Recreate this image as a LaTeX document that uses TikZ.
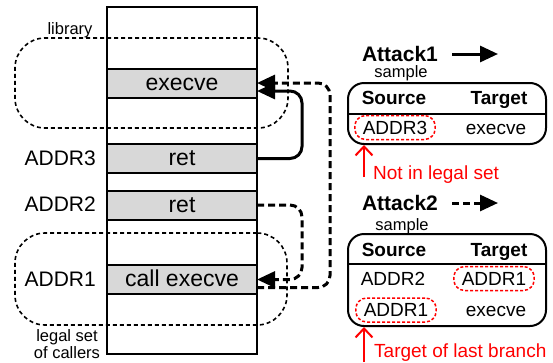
\documentclass[tikz,border=0pt]{standalone}
\usepackage{fontspec}
\setmainfont{Liberation Sans}
\usetikzlibrary{arrows.meta,calc}
\definecolor{cellgray}{RGB}{216,216,216}
\definecolor{alertred}{RGB}{255,0,0}
\begin{document}
\begin{tikzpicture}[x=1pt,y=-1pt,
  stack/.style={draw,line width=2pt,minimum width=150pt,minimum height=347pt,inner sep=0pt,outer sep=0pt},
  cell/.style={draw,line width=2pt,fill=cellgray,minimum width=150pt,minimum height=29pt,
    inner sep=0pt,outer sep=0pt,text height=14pt,text depth=0pt,font=\fontsize{23}{27}\selectfont},
  setbox/.style={draw,line width=1.6pt,dash pattern=on 4pt off 3pt,rounded corners=30pt,inner sep=0pt},
  addr/.style={inner sep=0pt,font=\fontsize{21}{25}\selectfont},
  small/.style={inner sep=0pt,font=\fontsize{16.5}{20}\selectfont},
  attackone/.style={line width=3pt,-{Triangle[length=18pt,width=16pt]},rounded corners=12pt},
  attacktwo/.style={attackone,dash pattern=on 7pt off 4pt},
  atk/.style={inner sep=0pt,font=\fontsize{21}{25}\selectfont\bfseries},
  tbl/.style={draw,line width=2pt,rounded corners=16pt,inner sep=0pt,minimum width=198pt},
  tcell/.style={inner sep=0pt,text height=13.6pt,text depth=0pt,font=\fontsize{19}{23}\selectfont},
  thead/.style={tcell,font=\fontsize{19}{23}\selectfont\bfseries},
  redbox/.style={draw=alertred,line width=1.5pt,dash pattern=on 3pt off 2pt,rounded corners=11pt,
    inner xsep=8pt,inner ysep=5.2pt},
  redarrow/.style={draw=alertred,line width=2pt,-{Straight Barb[length=9pt,width=17pt]}},
  redtxt/.style={inner sep=0pt,text=alertred,font=\fontsize{19}{23}\selectfont}
]
\useasboundingbox (0,0) rectangle (553,362);

% memory layout column
\node[stack] (col) at (182,180.5) {};
\node[cell] (exe)  at (182,83)    {execve};
\node[cell] (ret3) at (182,158.5) {ret};
\node[cell] (ret2) at (182,205)   {ret};
\node[cell] (call) at (182,279.5) {call execve};

% library and legal-caller regions
\node[setbox,minimum width=273pt,minimum height=90pt] (lib) at (151.5,83) {};
\node[setbox,minimum width=272pt,minimum height=92pt] (legal) at (151,279) {};

% left-hand labels
\node[small,anchor=base] (liblbl) at (70,34) {library};
\node[addr,anchor=base east] (a3) at (96,165) {ADDR3};
\node[addr,anchor=base east] (a2) at (96,211.5) {ADDR2};
\node[addr,anchor=base east] (a1) at (96,286) {ADDR1};
\node[small,anchor=base] (leg1) at (67,341.3) {legal set};
\node[small,anchor=base] (leg2) at (67,358.3) {of callers};

% attack control flows
\draw[attackone] (ret3.east) -- ++(45,0) |- ($(exe.east)+(0,8)$);
\draw[attacktwo] (ret2.east) -- ++(45,0) |- (call.east);
\draw[attacktwo] ($(call.east)+(0,8)$) -- ++(73,0) |- (exe.east);

% legend: Attack1
\node[atk,anchor=base] (at1) at (400,61) {Attack1};
\coordinate (l1s) at (452,54);
\coordinate (l1e) at (498,54);
\draw[attackone] (l1s) -- (l1e);
\node[small,anchor=base] (s1) at (401,77.5) {sample};

\node[tbl,minimum height=61pt] (t1) at (447,113.5) {};
\coordinate (d1) at (0,114);
\draw[line width=2pt] (t1.west |- d1) -- (t1.east |- d1);
\node[thead] (t1h1) at (394,97.2) {Source};
\node[thead] (t1h2) at (499,97.2) {Target};
\node[tcell,redbox] (t1r1) at (395,127.5) {ADDR3};
\node[tcell] (t1r2) at (496,127.5) {execve};

\coordinate (n1) at (364,177);
\draw[redarrow] (n1) -- (n1 |- t1.south);
\node[redtxt,anchor=base west] (nt1) at (373,179) {Not in legal set};

% legend: Attack2
\node[atk,anchor=base] (at2) at (400,210) {Attack2};
\coordinate (l2s) at (452,203);
\coordinate (l2e) at (498,203);
\draw[attacktwo] (l2s) -- (l2e);
\node[small,anchor=base] (s2) at (402,230) {sample};

\node[tbl,minimum height=92pt] (t2) at (447,280) {};
\coordinate (d2) at (0,264);
\draw[line width=2pt] (t2.west |- d2) -- (t2.east |- d2);
\node[thead] (t2h1) at (394,249.2) {Source};
\node[thead] (t2h2) at (499,249.2) {Target};
\node[tcell] (t2a) at (393,278.5) {ADDR2};
\node[tcell,redbox] (t2b) at (494,278.5) {ADDR1};
\node[tcell,redbox] (t2c) at (396,310) {ADDR1};
\node[tcell] (t2d) at (496,310) {execve};

\coordinate (n2) at (364,362);
\draw[redarrow] (n2) -- (n2 |- t2.south);
\node[redtxt,anchor=base west] (nt2) at (374,357) {Target of last branch};
\end{tikzpicture}
\end{document}
